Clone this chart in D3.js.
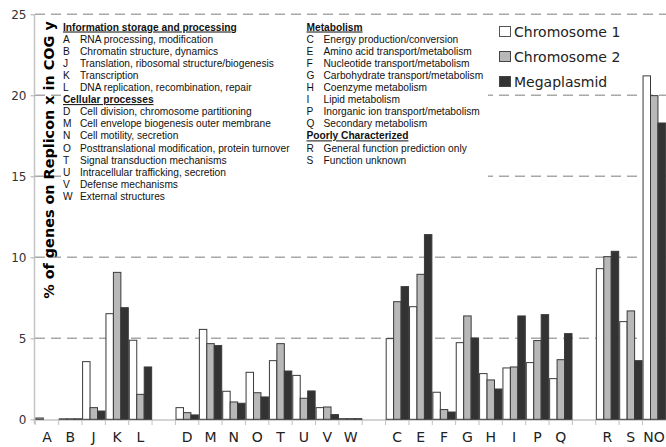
<!DOCTYPE html>
<html><head><meta charset="utf-8">
<script src="https://cdn.jsdelivr.net/npm/d3@7"></script>
<style>body{margin:0;background:#fff}svg{display:block}</style>
</head><body>
<svg id="c" width="666" height="447"></svg>
<script>
const slots = ["A","B","J","K","L","g1","D","M","N","O","T","U","V","W","g2","C","E","F","G","H","I","P","Q","g3","R","S","NO"];
const chromosome1 = [0.08,0.03,3.56,6.52,4.88,null,0.72,5.55,1.73,2.9,3.62,2.71,0.72,0.04,null,4.98,6.95,1.67,4.73,2.82,3.17,3.5,2.51,null,9.3,6.03,21.2];
const chromosome2 = [0,0.03,0.72,9.07,1.54,null,0.41,4.67,1.07,1.64,4.67,1.3,0.76,0.04,null,7.26,8.95,0.6,6.38,2.43,3.23,4.86,3.68,null,10.04,6.69,19.98];
const megaplasmid = [0,0.03,0.51,6.89,3.23,null,0.27,4.55,0.99,1.38,2.98,1.75,0.29,0.04,null,8.19,11.4,0.45,5.02,1.87,6.38,6.46,5.29,null,10.37,3.62,18.29];
const seriesNames = ["Chromosome 1","Chromosome 2","Megaplasmid"];
const yTicks = [0,5,10,15,20,25];
const infoHeader = "Information storage and processing";
const infoItems = [["A","RNA processing, modification"],["B","Chromatin structure, dynamics"],["J","Translation, ribosomal structure/biogenesis"],["K","Transcription"],["L","DNA replication, recombination, repair"]];
const cellHeader = "Cellular processes";
const cellItems = [["D","Cell division, chromosome partitioning"],["M","Cell envelope biogenesis outer membrane"],["N","Cell motility, secretion"],["O","Posttranslational modification, protein turnover"],["T","Signal transduction mechanisms"],["U","Intracellular trafficking, secretion"],["V","Defense mechanisms"],["W","External structures"]];
const metaHeader = "Metabolism";
const metaItems = [["C","Energy production/conversion"],["E","Amino acid transport/metabolism"],["F","Nucleotide transport/metabolism"],["G","Carbohydrate transport/metabolism"],["H","Coenzyme metabolism"],["I","Lipid metabolism"],["P","Inorganic ion transport/metabolism"],["Q","Secondary metabolism"]];
const poorHeader = "Poorly Characterized";
const poorItems = [["R","General function prediction only"],["S","Function unknown"]];

const fills = ["#ffffff","#b8b8b8","#333333"];
const svg = d3.select("#c");
const x = d3.scaleBand().domain(slots).range([35.3, 665.8]);
const xs = d3.scaleBand().domain([0,1,2]).range([0.6, x.bandwidth()-0.4]);
const y = d3.scaleLinear().domain([0,25]).range([419.3, 14.3]);

// gridlines
svg.append("g").selectAll("line").data(yTicks.filter(d=>d>0)).join("line")
  .attr("x1",35).attr("x2",666).attr("y1",d=>y(d)).attr("y2",d=>y(d))
  .attr("stroke","#a8a8a8").attr("stroke-width",1.5).attr("stroke-dasharray","10,6");

// white box behind category text
svg.append("rect").attr("x",62).attr("y",19).attr("width",426).attr("height",186).attr("fill","#fff");

// y axis
const yAxis = svg.append("g").attr("transform","translate(34.5,0)")
  .call(d3.axisLeft(y).tickValues(yTicks).tickSize(4).tickPadding(4));
yAxis.select(".domain").attr("stroke","#c4c4c4").attr("stroke-width",1.5).attr("d","M0,14.3V424");
yAxis.selectAll(".tick line").attr("stroke","#b0b0b0");
yAxis.selectAll("text").attr("font-family","DejaVu Sans").attr("font-size",12).attr("fill","#333");

// x axis
const xAxis = svg.append("g").attr("transform","translate(0,419.5)")
  .call(d3.axisBottom(x).tickSize(0).tickPadding(13).tickFormat(d=>d.startsWith("g")?"":d));
xAxis.select(".domain").attr("stroke","#c4c4c4").attr("stroke-width",1.5);
xAxis.selectAll("text").attr("font-family","DejaVu Sans").attr("font-size",14).attr("fill","#222");
svg.append("g").selectAll("line").data(slots).join("line")
  .attr("x1",d=>x(d)).attr("x2",d=>x(d)).attr("y1",419.5).attr("y2",425)
  .attr("stroke","#c0c0c0").attr("stroke-width",1);

// bars
const series = [chromosome1, chromosome2, megaplasmid];
series.forEach((vals,si)=>{
  svg.append("g").selectAll("rect").data(slots.map((s,i)=>({s,v:vals[i]})).filter(d=>d.v!=null && d.v>0)).join("rect")
    .attr("x",d=>x(d.s)+xs(si)).attr("width",xs.bandwidth())
    .attr("y",d=>y(d.v)).attr("height",d=>y(0)-y(d.v))
    .attr("fill",fills[si]).attr("stroke","#3a3a3a").attr("stroke-width",1);
});

// category legend text
function block(x0, yStart, header, items){
  let yy = yStart;
  const g = svg.append("g").attr("font-family","Liberation Sans, Arial").attr("font-size",10.2).attr("fill","#111");
  g.append("text").attr("x",x0).attr("y",yy).attr("font-weight","bold").attr("text-decoration","underline").text(header);
  yy += 12.1;
  items.forEach(([k,t])=>{
    g.append("text").attr("x",x0).attr("y",yy).text(k);
    g.append("text").attr("x",x0+17).attr("y",yy).text(t);
    yy += 12.1;
  });
  return yy;
}
let yy = block(63, 30.5, infoHeader, infoItems);
block(63, yy, cellHeader, cellItems);
let yy2 = block(306.5, 30.5, metaHeader, metaItems);
block(306.5, yy2, poorHeader, poorItems);

// series legend
const lg = svg.append("g");
seriesNames.forEach((n,i)=>{
  lg.append("rect").attr("x",499.5).attr("y",26.5+25*i).attr("width",11).attr("height",10)
    .attr("fill",fills[i]).attr("stroke",i===0?"#555":"#444").attr("stroke-width",1);
  lg.append("text").attr("x",514).attr("y",37+25*i).attr("font-family","DejaVu Sans").attr("font-size",14).attr("fill","#222").text(n);
});

// y title
svg.append("text").attr("transform","translate(54,160) rotate(-90)").attr("text-anchor","middle")
  .attr("font-family","DejaVu Sans").attr("font-weight","bold").attr("font-size",14.4).attr("fill","#000")
  .text("% of genes on Replicon x in COG y");
</script>
</body></html>
